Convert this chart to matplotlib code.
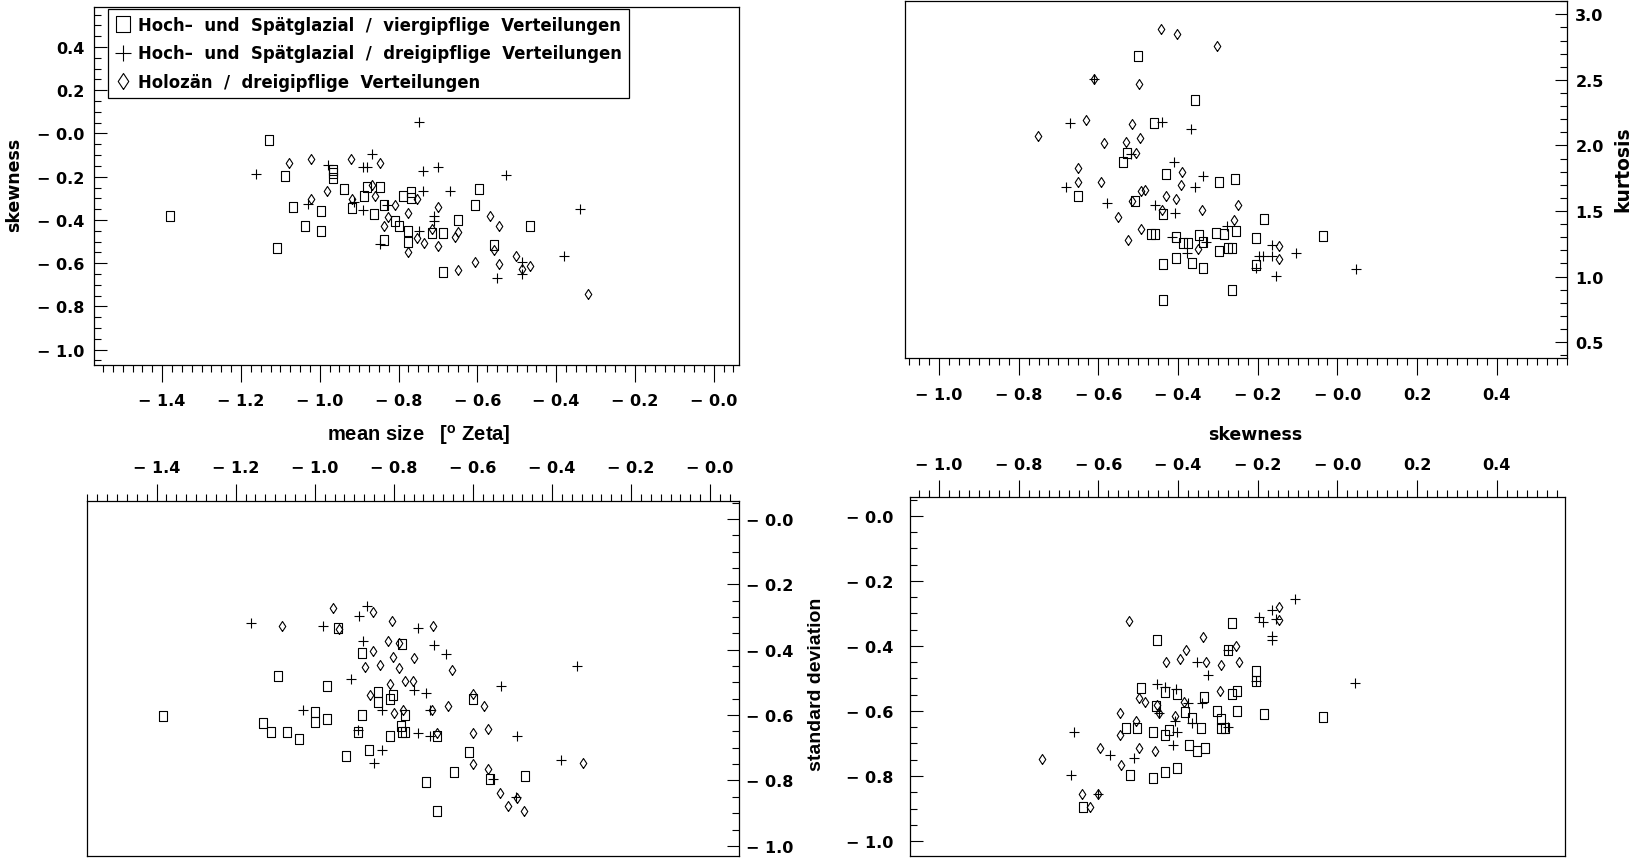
import numpy as np
import matplotlib
matplotlib.use("Agg")
import matplotlib.pyplot as plt
from matplotlib.ticker import MultipleLocator, FuncFormatter

# --- top left: mean size vs skewness ---
tl_sq_x = [-1.380, -1.128, -1.089, -1.108, -1.068, -1.038, -0.998, -0.998, -0.967, -0.967, -0.967,
           -0.938, -0.918, -0.887, -0.879, -0.862, -0.848, -0.838, -0.838, -0.809, -0.800, -0.788,
           -0.777, -0.777, -0.769, -0.769, -0.716, -0.688, -0.688, -0.648, -0.607, -0.597, -0.559, -0.466]
tl_sq_y = [-0.380, -0.028, -0.197, -0.531, -0.341, -0.429, -0.359, -0.450, -0.167, -0.185, -0.205,
           -0.259, -0.345, -0.290, -0.248, -0.372, -0.248, -0.330, -0.495, -0.403, -0.426, -0.290,
           -0.449, -0.503, -0.271, -0.299, -0.460, -0.460, -0.642, -0.400, -0.330, -0.259, -0.518, -0.430]
tl_pl_x = [-1.161, -1.029, -0.978, -0.913, -0.890, -0.890, -0.879, -0.868, -0.847, -0.829, -0.749, -0.738,
           -0.738, -0.749, -0.711, -0.711, -0.699, -0.669, -0.551, -0.527, -0.487, -0.487, -0.379, -0.339]
tl_pl_y = [-0.187, -0.325, -0.145, -0.318, -0.356, -0.156, -0.156, -0.094, -0.511, -0.330, 0.053, -0.174,
           -0.268, -0.449, -0.380, -0.403, -0.153, -0.268, -0.669, -0.194, -0.595, -0.650, -0.568, -0.349]
tl_di_x = [-1.078, -1.023, -1.023, -0.982, -0.920, -0.918, -0.868, -0.859, -0.848, -0.838, -0.828,
           -0.809, -0.775, -0.775, -0.753, -0.752, -0.736, -0.714, -0.699, -0.699, -0.656, -0.648,
           -0.648, -0.607, -0.567, -0.559, -0.544, -0.544, -0.502, -0.487, -0.466, -0.318]
tl_di_y = [-0.137, -0.120, -0.302, -0.264, -0.120, -0.302, -0.238, -0.290, -0.137, -0.426, -0.387,
           -0.330, -0.369, -0.546, -0.302, -0.484, -0.505, -0.440, -0.341, -0.521, -0.480, -0.454,
           -0.631, -0.593, -0.380, -0.541, -0.426, -0.604, -0.565, -0.625, -0.615, -0.742]

# --- top right: skewness vs kurtosis ---
tr_sq_x = [-0.500, -0.358, -0.460, -0.527, -0.538, -0.429, -0.297, -0.257, -0.650, -0.509, -0.437, -0.184,
           -0.467, -0.459, -0.406, -0.387, -0.375, -0.347, -0.337, -0.305, -0.285, -0.255, -0.205, -0.298,
           -0.275, -0.265, -0.437, -0.406, -0.366, -0.337, -0.205, -0.265, -0.437, -0.036]
tr_sq_y = [2.685, 2.346, 2.174, 1.941, 1.872, 1.782, 1.723, 1.743, 1.615, 1.577, 1.474, 1.441,
           1.325, 1.325, 1.300, 1.256, 1.256, 1.315, 1.260, 1.333, 1.325, 1.351, 1.295, 1.197,
           1.220, 1.220, 1.095, 1.141, 1.100, 1.069, 1.090, 0.895, 0.820, 1.308]
tr_pl_x = [-0.611, -0.440, -0.670, -0.368, -0.518, -0.410, -0.338, -0.357, -0.680, -0.579, -0.459, -0.407,
           -0.416, -0.378, -0.330, -0.278, -0.205, -0.197, -0.187, -0.164, -0.164, -0.154, -0.104, 0.046]
tr_pl_y = [2.508, 2.180, 2.172, 2.128, 1.936, 1.877, 1.769, 1.685, 1.681, 1.564, 1.546, 1.487,
           1.300, 1.179, 1.265, 1.385, 1.064, 1.154, 1.154, 1.238, 1.154, 1.008, 1.179, 1.058]
tr_di_x = [-0.443, -0.403, -0.302, -0.611, -0.497, -0.752, -0.631, -0.516, -0.585, -0.530, -0.496,
           -0.506, -0.650, -0.650, -0.594, -0.390, -0.392, -0.494, -0.484, -0.516, -0.550, -0.493,
           -0.526, -0.429, -0.404, -0.439, -0.340, -0.249, -0.259, -0.349, -0.147, -0.147]
tr_di_y = [2.892, 2.851, 2.762, 2.508, 2.469, 2.072, 2.197, 2.162, 2.018, 2.025, 2.056,
           1.946, 1.828, 1.723, 1.723, 1.795, 1.697, 1.654, 1.664, 1.577, 1.456, 1.366,
           1.282, 1.615, 1.590, 1.505, 1.505, 1.543, 1.435, 1.212, 1.231, 1.133]

# --- bottom left: mean size vs standard deviation ---
bl_sq_x = [-1.383, -1.092, -0.970, -0.940, -1.131, -1.110, -1.071, -1.041, -1.000, -1.000, -0.970, -0.920,
           -0.880, -0.880, -0.890, -0.863, -0.841, -0.841, -0.810, -0.801, -0.780, -0.772, -0.782, -0.810,
           -0.780, -0.772, -0.690, -0.719, -0.690, -0.649, -0.609, -0.600, -0.558, -0.469]
bl_sq_y = [-0.603, -0.481, -0.510, -0.334, -0.624, -0.652, -0.652, -0.673, -0.591, -0.622, -0.612, -0.726,
           -0.411, -0.601, -0.652, -0.706, -0.530, -0.561, -0.550, -0.540, -0.382, -0.601, -0.632, -0.663,
           -0.652, -0.652, -0.663, -0.805, -0.894, -0.775, -0.713, -0.550, -0.795, -0.785]
bl_pl_x = [-1.160, -0.980, -0.889, -0.868, -0.878, -0.740, -0.699, -0.667, -0.909, -1.030, -0.829, -0.748,
           -0.719, -0.708, -0.740, -0.708, -0.829, -0.849, -0.528, -0.488, -0.337, -0.378, -0.548, -0.491, -0.890]
bl_pl_y = [-0.318, -0.326, -0.298, -0.267, -0.374, -0.334, -0.385, -0.413, -0.491, -0.583, -0.583, -0.522,
           -0.532, -0.583, -0.654, -0.663, -0.706, -0.746, -0.512, -0.663, -0.451, -0.736, -0.795, -0.851, -0.645]
bl_di_x = [-1.084, -0.953, -0.853, -0.939, -0.804, -0.702, -0.814, -0.787, -0.853, -0.801, -0.748, -0.834,
           -0.872, -0.788, -0.652, -0.810, -0.771, -0.752, -0.859, -0.800, -0.777, -0.703, -0.663, -0.600,
           -0.572, -0.600, -0.561, -0.691, -0.600, -0.561, -0.532, -0.512, -0.489, -0.471, -0.321]
bl_di_y = [-0.326, -0.273, -0.285, -0.338, -0.313, -0.326, -0.374, -0.379, -0.405, -0.423, -0.425, -0.446,
           -0.454, -0.456, -0.462, -0.505, -0.495, -0.495, -0.540, -0.594, -0.583, -0.583, -0.571, -0.535,
           -0.571, -0.654, -0.644, -0.654, -0.749, -0.765, -0.839, -0.877, -0.855, -0.894, -0.746]

# --- bottom right: skewness vs standard deviation ---
br_sq_x = [-0.640, -0.521, -0.462, -0.432, -0.404, -0.531, -0.502, -0.462, -0.432, -0.424, -0.372, -0.353,
           -0.333, -0.343, -0.364, -0.383, -0.293, -0.282, -0.293, -0.303, -0.253, -0.184, -0.036, -0.493,
           -0.432, -0.404, -0.455, -0.335, -0.265, -0.253, -0.205, -0.205, -0.454, -0.265, -0.276]
br_sq_y = [-0.896, -0.797, -0.806, -0.787, -0.776, -0.653, -0.653, -0.664, -0.673, -0.660, -0.704, -0.724,
           -0.714, -0.653, -0.623, -0.602, -0.653, -0.653, -0.626, -0.599, -0.599, -0.609, -0.619, -0.529,
           -0.541, -0.548, -0.586, -0.556, -0.548, -0.540, -0.476, -0.507, -0.381, -0.330, -0.411]
br_pl_x = [-0.661, -0.670, -0.600, -0.571, -0.512, -0.454, -0.405, -0.432, -0.448, -0.408, -0.404, -0.413,
           -0.374, -0.366, -0.353, -0.324, -0.340, -0.276, -0.276, -0.205, -0.196, -0.186, -0.165, -0.165,
           -0.165, -0.155, -0.107, 0.044]
br_pl_y = [-0.664, -0.797, -0.855, -0.735, -0.746, -0.517, -0.532, -0.527, -0.606, -0.630, -0.664, -0.704,
           -0.576, -0.637, -0.450, -0.488, -0.576, -0.650, -0.411, -0.507, -0.312, -0.327, -0.288, -0.370,
           -0.382, -0.317, -0.257, -0.514]
br_di_x = [-0.741, -0.641, -0.620, -0.600, -0.596, -0.543, -0.547, -0.546, -0.506, -0.498, -0.459, -0.524,
           -0.497, -0.483, -0.454, -0.448, -0.430, -0.395, -0.380, -0.337, -0.330, -0.292, -0.247, -0.256,
           -0.295, -0.385, -0.408, -0.146, -0.146]
br_di_y = [-0.748, -0.855, -0.896, -0.855, -0.714, -0.766, -0.673, -0.606, -0.630, -0.714, -0.724, -0.322,
           -0.560, -0.571, -0.583, -0.606, -0.450, -0.440, -0.411, -0.371, -0.450, -0.459, -0.449, -0.401,
           -0.540, -0.571, -0.614, -0.281, -0.320]

legend_labels = ["Hoch\u2013  und  Sp\u00e4tglazial  /  viergipflige  Verteilungen",
                 "Hoch\u2013  und  Sp\u00e4tglazial  /  dreigipflige  Verteilungen",
                 "Holoz\u00e4n  /  dreigipflige  Verteilungen"]

plt.rcParams['font.family'] = ['DejaVu Sans']
plt.rcParams['font.weight'] = 'bold'
plt.rcParams['mathtext.default'] = 'regular'

SQUARE = [(-0.42, -0.5), (0.42, -0.5), (0.42, 0.5), (-0.42, 0.5), (-0.42, -0.5)]
DIAMOND = [(0, -0.5), (0.33, 0), (0, 0.5), (-0.33, 0), (0, -0.5)]


def fmt(v, pos):
    if v < 1e-9:
        return "\u2212 %.1f" % abs(v)
    return "%.1f" % v


def scatter3(ax, sx, sy, px, py, dx, dy):
    kw = dict(linestyle='none', color='k', mfc='none', mec='k', mew=0.8)
    h1, = ax.plot(sx, sy, marker=SQUARE, ms=7.2, **kw)
    h2, = ax.plot(px, py, marker='+', ms=7.5, **kw)
    h3, = ax.plot(dx, dy, marker=DIAMOND, ms=7.2, **kw)
    return [h1, h2, h3]


def setup(ax, xlim, ylim, xside, yside, ymajor, yminor, xpad, ypad):
    ax.set_xlim(xlim)
    ax.set_ylim(ylim)
    ax.xaxis.set_major_locator(MultipleLocator(0.2))
    ax.xaxis.set_minor_locator(MultipleLocator(0.025))
    ax.yaxis.set_major_locator(MultipleLocator(ymajor))
    ax.yaxis.set_minor_locator(MultipleLocator(yminor))
    ax.xaxis.set_major_formatter(FuncFormatter(fmt))
    ax.yaxis.set_major_formatter(FuncFormatter(fmt))
    top = xside == 'top'
    right = yside == 'right'
    ax.tick_params(axis='x', which='both', direction='out', bottom=not top, top=top,
                   labelbottom=not top, labeltop=top, width=0.8)
    ax.tick_params(axis='x', which='major', length=12, pad=xpad, labelsize=11.5)
    ax.tick_params(axis='x', which='minor', length=5)
    ax.tick_params(axis='y', which='both', direction='in', left=not right, right=right,
                   labelleft=not right, labelright=right, width=0.8)
    ax.tick_params(axis='y', which='major', length=9, pad=ypad, labelsize=11.5)
    ax.tick_params(axis='y', which='minor', length=5)
    for s in ax.spines.values():
        s.set_linewidth(0.9)


fig = plt.figure(figsize=(16.36, 8.62), dpi=100)

ax_tl = fig.add_axes([0.05746, 0.57541, 0.39425, 0.41531])
handles = scatter3(ax_tl, tl_sq_x, tl_sq_y, tl_pl_x, tl_pl_y, tl_di_x, tl_di_y)
setup(ax_tl, (-1.573, 0.064), (-1.071, 0.585), 'bottom', 'left', 0.2, 0.05, 8, 7)
leg = ax_tl.legend(handles, legend_labels, loc='upper left', bbox_to_anchor=(0.021, 0.994),
                   borderaxespad=0, fontsize=11.9, markerscale=1.6, handlelength=1.0,
                   handletextpad=0.45, labelspacing=0.62, borderpad=0.42, fancybox=False,
                   framealpha=1, edgecolor='k')
leg.get_frame().set_linewidth(0.9)

ax_tr = fig.add_axes([0.55318, 0.58353, 0.40465, 0.41415])
scatter3(ax_tr, tr_sq_x, tr_sq_y, tr_pl_x, tr_pl_y, tr_di_x, tr_di_y)
setup(ax_tr, (-1.085, 0.576), (0.379, 3.102), 'bottom', 'right', 0.5, 0.1, 9, 6)

ax_bl = fig.add_axes([0.05318, 0.00580, 0.39853, 0.41183])
scatter3(ax_bl, bl_sq_x, bl_sq_y, bl_pl_x, bl_pl_y, bl_di_x, bl_di_y)
setup(ax_bl, (-1.576, 0.073), (-1.031, 0.055), 'top', 'right', 0.2, 0.05, 7, 5)

ax_br = fig.add_axes([0.55623, 0.00580, 0.40037, 0.41647])
scatter3(ax_br, br_sq_x, br_sq_y, br_pl_x, br_pl_y, br_di_x, br_di_y)
setup(ax_br, (-1.073, 0.571), (-1.046, 0.058), 'top', 'left', 0.2, 0.05, 6, 12)

fig.text(0.0086, 0.785, "skewness", rotation=90, ha='center', va='center', fontsize=12.5)
fig.text(0.2557, 0.4954, "mean size   [$^{o}$ Zeta]", ha='center', va='center', fontsize=14.5,
         family=['Liberation Sans', 'DejaVu Sans'])
fig.text(0.767, 0.4954, "skewness", ha='center', va='center', fontsize=12.5)
fig.text(0.9918, 0.804, "kurtosis", rotation=90, ha='center', va='center', fontsize=13.5)
fig.text(0.4988, 0.206, "standard deviation", rotation=90, ha='center', va='center', fontsize=14,
         family=['Liberation Sans', 'DejaVu Sans'])

fig.savefig("out.png", dpi=100)
